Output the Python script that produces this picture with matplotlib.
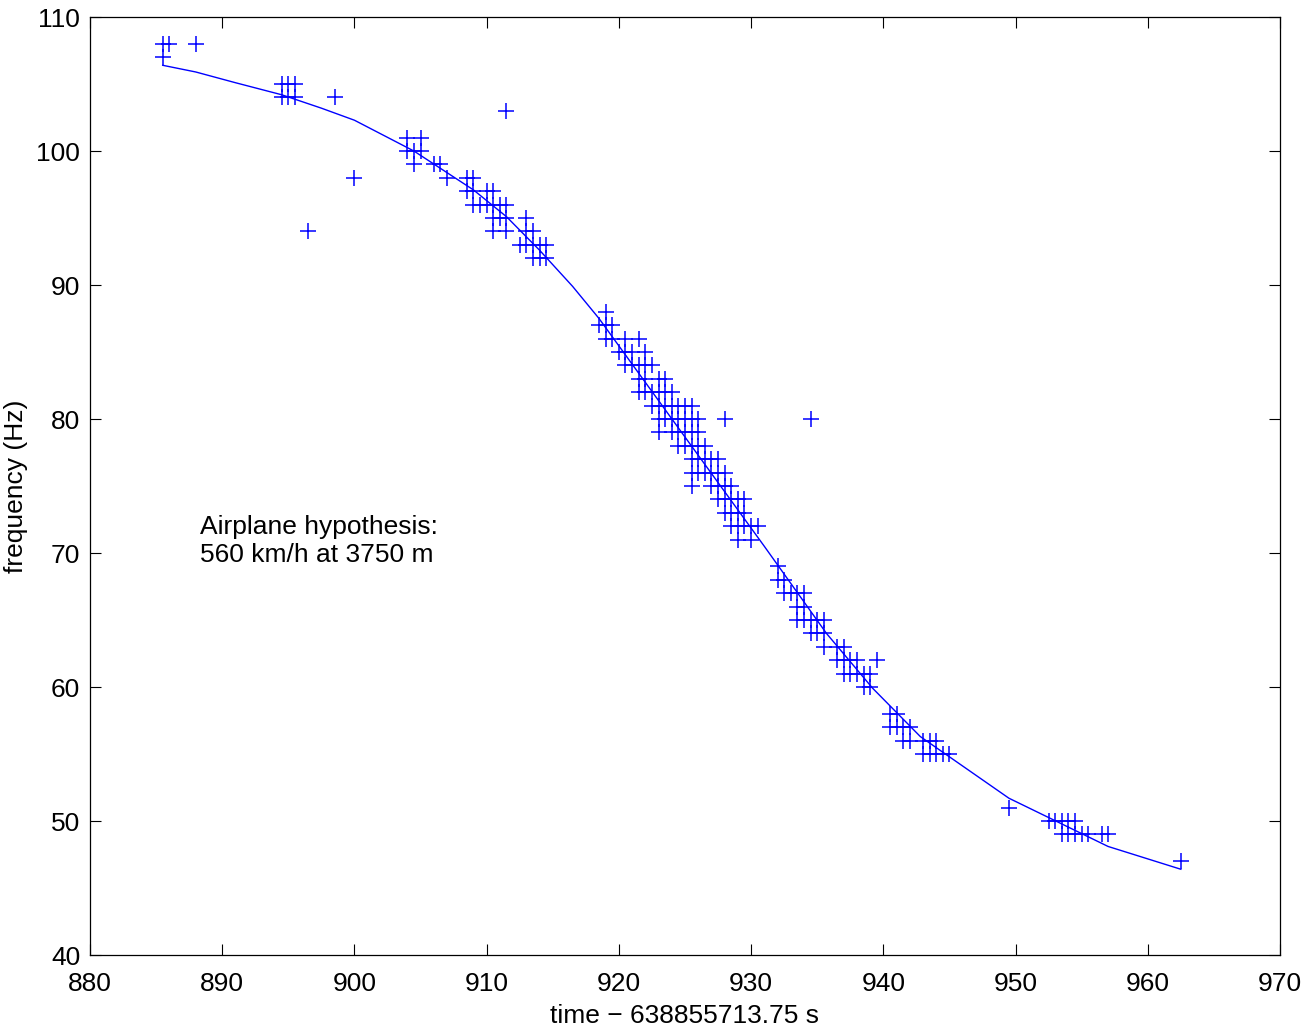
import numpy as np
import matplotlib
matplotlib.use("Agg")
import matplotlib.pyplot as plt

plt.rcParams['font.family'] = ['Liberation Sans', 'DejaVu Sans']

# 관측 주파수 (시간, 주파수) - 그림에서 읽은 값
t_obs = [885.5, 886.0, 888.0, 885.5,
         894.5, 895.0, 895.5,
         894.5, 895.0, 895.5, 898.5,
         911.5,
         904.0, 905.0,
         904.0, 904.5, 905.0,
         904.5, 906.0, 906.5,
         900.0, 907.0, 908.5, 909.0,
         908.5, 909.0, 910.0, 910.5,
         909.0, 909.5, 910.0, 910.5, 911.0, 911.5,
         910.5, 911.0, 911.5, 913.0,
         896.5, 910.5, 911.5, 913.0, 913.5,
         912.5, 913.0, 913.5, 914.0, 914.5,
         913.5, 914.0, 914.5,
         919.0,
         918.5, 919.0, 919.5,
         919.0, 919.5, 920.5, 921.5,
         920.0, 920.5, 921.0, 922.0,
         920.5, 921.0, 921.5, 922.0, 922.5,
         921.5, 922.0, 923.0, 923.5,
         921.5, 922.0, 922.5, 923.0, 923.5, 924.0,
         922.5, 923.0, 923.5, 924.0, 924.5, 925.0, 925.5,
         923.0, 923.5, 924.0, 924.5, 925.0, 925.5, 926.0, 928.0, 934.5,
         923.0, 924.0, 924.5, 925.0, 925.5, 926.0,
         924.5, 925.0, 925.5, 926.0, 926.5,
         925.5, 926.0, 926.5, 927.0, 927.5,
         925.5, 926.0, 926.5, 927.0, 927.5, 928.0,
         925.5, 927.0, 927.5, 928.0, 928.5,
         927.5, 928.0, 928.5, 929.0, 929.5,
         928.0, 928.5, 929.0, 929.5,
         928.5, 929.0, 929.5, 930.0, 930.5,
         929.0, 930.0,
         932.0,
         932.0, 932.5,
         932.5, 933.0, 933.5, 934.0,
         933.5, 934.0,
         933.5, 934.0, 934.5, 935.0, 935.5,
         934.5, 935.0, 935.5,
         935.5, 936.5, 937.0,
         936.5, 937.0, 937.5, 938.0, 939.5,
         937.0, 937.5, 938.0, 938.5, 939.0,
         938.5, 939.0,
         940.5, 941.0,
         940.5, 941.0, 941.5, 942.0,
         941.5, 942.0, 943.0, 943.5, 944.0,
         943.0, 943.5, 944.0, 944.5, 945.0,
         949.5,
         952.5, 953.0, 953.5, 954.0, 954.5,
         953.5, 954.0, 954.5, 955.0, 955.5, 956.5, 957.0,
         962.5]

f_obs = ([108] * 3 + [107] +
         [105] * 3 +
         [104] * 4 +
         [103] +
         [101] * 2 +
         [100] * 3 +
         [99] * 3 +
         [98] * 4 +
         [97] * 4 +
         [96] * 6 +
         [95] * 4 +
         [94] * 5 +
         [93] * 5 +
         [92] * 3 +
         [88] +
         [87] * 3 +
         [86] * 4 +
         [85] * 4 +
         [84] * 5 +
         [83] * 4 +
         [82] * 6 +
         [81] * 7 +
         [80] * 9 +
         [79] * 6 +
         [78] * 5 +
         [77] * 5 +
         [76] * 6 +
         [75] * 5 +
         [74] * 5 +
         [73] * 4 +
         [72] * 5 +
         [71] * 2 +
         [69] +
         [68] * 2 +
         [67] * 4 +
         [66] * 2 +
         [65] * 5 +
         [64] * 3 +
         [63] * 3 +
         [62] * 5 +
         [61] * 5 +
         [60] * 2 +
         [58] * 2 +
         [57] * 4 +
         [56] * 5 +
         [55] * 5 +
         [51] +
         [50] * 5 +
         [49] * 7 +
         [47])

# 비행기 가설 곡선 (꺾은선 꼭짓점)
t_fit = [885.5, 888.0, 891.0, 894.5, 897.5, 900.0, 904.5, 909.0, 911.5,
         914.0, 916.5, 918.5, 924.6, 931.0, 935.7, 939.2, 942.8, 949.5, 957.0, 962.5]
f_fit = [106.4, 105.9, 105.1, 104.2, 103.2, 102.3, 100.0, 97.1, 95.1,
         92.6, 89.9, 87.5, 79.2, 70.5, 64.0, 59.9, 56.3, 51.7, 48.1, 46.4]

fig = plt.figure(figsize=(13.06, 10.27), dpi=100)
ax = fig.add_axes([0.0689, 0.0701, 0.9112, 0.9133])

ax.plot(t_obs, f_obs, '+', color='blue', markersize=11, markeredgewidth=1.1)
ax.plot(t_fit, f_fit, '-', color='blue', linewidth=1.0)

ax.text(888.3, 70.9, "Airplane hypothesis:\n560 km/h at 3750 m",
        fontsize=19, va='center', ha='left', linespacing=1.2)

ax.set_xlim(880, 970)
ax.set_ylim(40, 110)
ax.set_xticks(np.arange(880, 971, 10))
ax.set_yticks(np.arange(40, 111, 10))
ax.tick_params(direction='in', length=8, width=0.8, labelsize=19,
               top=True, right=True)
ax.tick_params(axis='x', pad=12)
ax.tick_params(axis='y', pad=7)
for s in ax.spines.values():
    s.set_linewidth(0.9)

ax.set_xlabel("time \u2212 638855713.75 s", fontsize=19, labelpad=6)
ax.set_ylabel("frequency (Hz)", fontsize=19, labelpad=6)

fig.savefig("out.png", dpi=100)
